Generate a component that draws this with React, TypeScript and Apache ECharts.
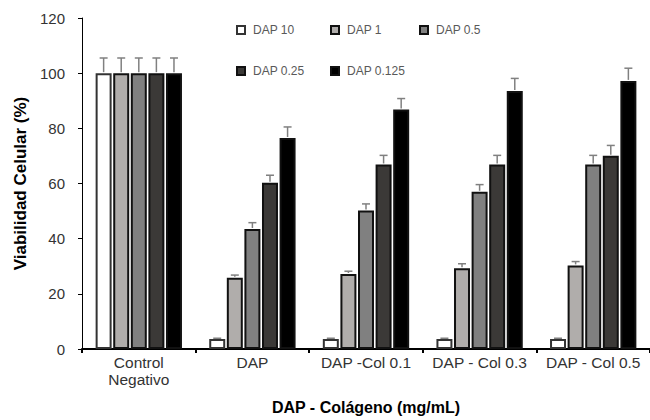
import React, { useEffect, useRef } from "react";
import * as echarts from "echarts";

const categories = ["Control\nNegativo", "DAP", "DAP -Col 0.1", "DAP - Col 0.3", "DAP - Col 0.5"];
const seriesNames = ["DAP 10", "DAP 1", "DAP 0.5", "DAP 0.25", "DAP 0.125"];
const seriesColors = ["#ffffff", "#b0adab", "#808080", "#3b3937", "#000000"];

const dap10 = [100, 3.6, 3.6, 3.6, 3.6];
const dap1 = [100, 25.8, 27.2, 29.3, 30.3];
const dap05 = [100, 43.5, 50.2, 57, 66.9];
const dap025 = [100, 60.3, 66.9, 66.9, 70.1];
const dap0125 = [100, 76.5, 86.8, 93.5, 97.2];

const err10 = [5.5, 0.3, 0.3, 0.3, 0.3];
const err1 = [5.5, 1, 1, 1.6, 1.4];
const err05 = [5.5, 2.3, 2.4, 2.6, 3.3];
const err025 = [5.5, 2.7, 3.3, 3.3, 3.7];
const err0125 = [5.5, 4, 4, 4.6, 4.6];

const yTicks = [0, 20, 40, 60, 80, 100, 120];

const values = [dap10, dap1, dap05, dap025, dap0125];
const errors = [err10, err1, err05, err025, err0125];

const CAT_GAP = 0.24;
const BAR_GAP = 0.1;

export default function App() {
  const ref = useRef<HTMLDivElement>(null);
  useEffect(() => {
    if (!ref.current) return;
    const chart = echarts.init(ref.current, null, { renderer: "svg" });
    const n = seriesNames.length;
    const barSeries = seriesNames.map((name, i) => ({
      name,
      type: "bar",
      data: values[i],
      barGap: `${BAR_GAP * 100}%`,
      barCategoryGap: `${CAT_GAP * 100}%`,
      itemStyle: { color: seriesColors[i], borderColor: i === 0 ? "#333" : "#111", borderWidth: 2 },
      z: 2,
    }));
    const errData: number[][] = [];
    values.forEach((arr, s) => {
      arr.forEach((v, c) => errData.push([c, v, errors[s][c], s]));
    });
    const errSeries = {
      type: "custom",
      name: "err",
      z: 3,
      data: errData,
      encode: { x: 0, y: 1 },
      renderItem: (params: any, api: any) => {
        const c = api.value(0);
        const v = api.value(1);
        const e = api.value(2);
        const s = api.value(3);
        const base = api.coord([c, v]);
        const top = api.coord([c, v + e]);
        const band = api.size([1, 0])[0];
        const total = band * (1 - CAT_GAP);
        const w = total / (n + (n - 1) * BAR_GAP);
        const x = base[0] - total / 2 + s * w * (1 + BAR_GAP) + w / 2;
        const style = { stroke: "#808080", lineWidth: 1.5 };
        return {
          type: "group",
          children: [
            { type: "line", shape: { x1: x, y1: base[1] - 1, x2: x, y2: top[1] }, style },
            { type: "line", shape: { x1: x - 4, y1: top[1], x2: x + 4, y2: top[1] }, style },
          ],
        };
      },
    };
    const legendPos = [
      { left: 236, top: 24 },
      { left: 330, top: 24 },
      { left: 419, top: 24 },
      { left: 236, top: 65 },
      { left: 330, top: 65 },
    ];
    const legends = seriesNames.map((name, i) => ({
      data: [name],
      left: legendPos[i].left,
      top: legendPos[i].top,
      padding: 0,
      itemWidth: 8,
      itemHeight: 8,
      itemGap: 5,
      icon: "rect",
      textStyle: { fontSize: 12, color: "#595959", fontFamily: "Liberation Sans", padding: [0, 0, 0, 3] },
    }));
    chart.setOption({
      animation: false,
      backgroundColor: "#ffffff",
      legend: legends,
      grid: { left: 82, right: -7, top: 18, bottom: 70, containLabel: false },
      xAxis: {
        type: "category",
        data: categories,
        name: "DAP - Colágeno (mg/mL)",
        nameLocation: "middle",
        nameGap: 50,
        nameTextStyle: { fontSize: 16, fontWeight: "bold", color: "#000", fontFamily: "Liberation Sans" },
        axisLine: { lineStyle: { color: "#000", width: 2 } },
        axisTick: { show: true, alignWithLabel: false, length: 4, lineStyle: { color: "#000", width: 2 } },
        axisLabel: { fontSize: 15.5, color: "#333", margin: 5, lineHeight: 17, fontFamily: "Liberation Sans", interval: 0 },
      },
      yAxis: {
        type: "value",
        min: 0,
        max: 120,
        interval: 20,
        name: "Viabilidad Celular (%)",
        nameLocation: "middle",
        nameGap: 50,
        nameTextStyle: { fontSize: 17, fontWeight: "bold", color: "#000", fontFamily: "Liberation Sans" },
        axisLine: { show: true, lineStyle: { color: "#000", width: 1 } },
        axisTick: { show: true, length: 4, lineStyle: { color: "#000" } },
        axisLabel: { fontSize: 15, color: "#333", margin: 17, fontFamily: "Liberation Sans",
          formatter: (v: number) => (yTicks.includes(v) ? String(v) : "") },
        splitLine: { show: false },
      },
      series: [...barSeries, errSeries],
    });
    return () => chart.dispose();
  }, []);
  return <div ref={ref} style={{ width: 650, height: 420, position: "absolute", left: 0, top: 0 }} />;
}
